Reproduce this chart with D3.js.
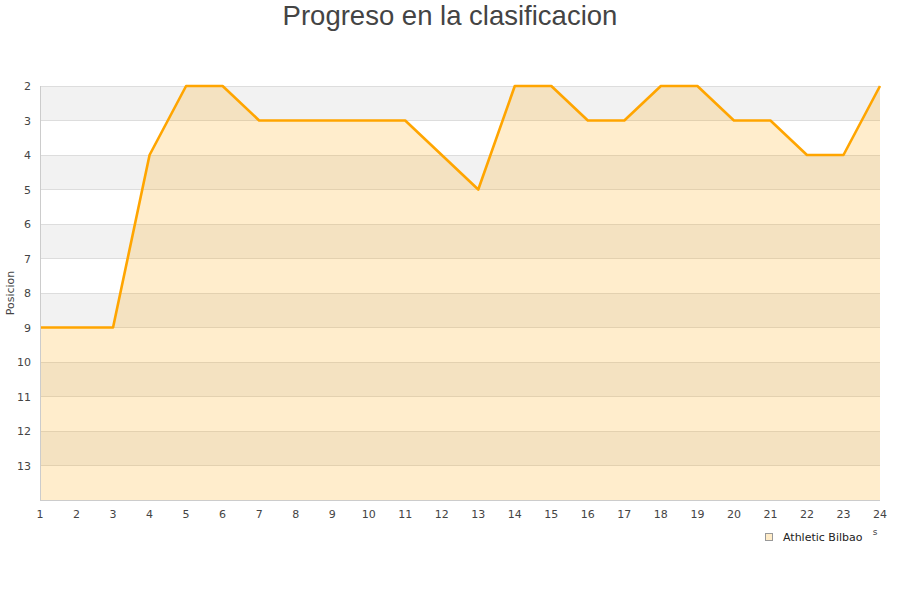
<!DOCTYPE html>
<html><head><meta charset="utf-8">
<script src="https://cdn.jsdelivr.net/npm/d3@7"></script>
<style>body{margin:0;background:#fff;} svg{display:block;font-family:"DejaVu Sans",sans-serif;}</style>
</head><body>
<svg id="c" width="900" height="600"></svg>
<script>
const jornadas = [1,2,3,4,5,6,7,8,9,10,11,12,13,14,15,16,17,18,19,20,21,22,23,24];
const posiciones = [9,9,9,4,2,2,3,3,3,3,3,4,5,2,2,3,3,2,2,3,3,4,4,2];
const yTicks = [2,3,4,5,6,7,8,9,10,11,12,13];
const seriesName = "Athletic Bilbao";
const title = "Progreso en la clasificacion";
const yTitle = "Posicion";

const svg = d3.select("#c");
const L=40,R=880,T=86,B=500;
const x = d3.scaleLinear().domain([1,24]).range([L,R]);
const y = d3.scaleLinear().domain([2,14]).range([T,B]);

// bands
for(let v=2; v<14; v++){
  svg.append("rect").attr("x",L).attr("y",y(v)).attr("width",R-L).attr("height",y(v+1)-y(v))
    .attr("fill", (v%2===0)?"#f2f2f2":"#ffffff");
}
// grid
svg.append("g").selectAll("line").data(yTicks.concat([14])).join("line")
  .attr("x1",L).attr("x2",R).attr("y1",d=>y(d)).attr("y2",d=>y(d))
  .attr("stroke","#dddddd").attr("stroke-width",1).attr("shape-rendering","crispEdges");

const pts = jornadas.map((j,i)=>[j,posiciones[i]]);
svg.append("path").datum(pts)
  .attr("d", d3.area().x(d=>x(d[0])).y0(y(14)).y1(d=>y(d[1])))
  .attr("fill","rgba(255,165,0,0.2)");
svg.append("path").datum(pts)
  .attr("d", d3.line().x(d=>x(d[0])).y(d=>y(d[1])))
  .attr("fill","none").attr("stroke","#ffa500").attr("stroke-width",2.6).attr("stroke-linejoin","round");

// axes lines
svg.append("line").attr("x1",L+0.5).attr("x2",L+0.5).attr("y1",T).attr("y2",B).attr("stroke","#cccccc");
svg.append("line").attr("x1",L).attr("x2",R).attr("y1",B+0.5).attr("y2",B+0.5).attr("stroke","#cccccc");

// y ticks
svg.append("g").selectAll("text").data(yTicks).join("text")
  .attr("x",31).attr("y",d=>y(d)+4).attr("text-anchor","end")
  .attr("font-size",11).attr("fill","#444").text(d=>d);
// x ticks
svg.append("g").selectAll("text").data(jornadas).join("text")
  .attr("x",d=>x(d)).attr("y",518).attr("text-anchor","middle")
  .attr("font-size",11).attr("fill","#444").text(d=>d);

// title
svg.append("text").attr("x",450).attr("y",25).attr("text-anchor","middle")
  .attr("font-family","'Liberation Sans',Arial,sans-serif").attr("font-size",27.5).attr("fill","#444").text(title);
// y title
svg.append("text").attr("transform","translate(14,293) rotate(-90)").attr("text-anchor","middle")
  .attr("font-size",11).attr("fill","#444").text(yTitle);

// clipped x title remnant
svg.append("text").attr("x",875).attr("y",535).attr("text-anchor","middle").attr("font-size",9).attr("fill","#444").text("s");

// legend
svg.append("rect").attr("x",765.5).attr("y",533.5).attr("width",7).attr("height",7)
  .attr("fill","#ffecc8").attr("stroke","#999").attr("stroke-width",1);
svg.append("text").attr("x",783).attr("y",541).attr("font-size",11).attr("fill","#222").text(seriesName);
</script>
</body></html>
